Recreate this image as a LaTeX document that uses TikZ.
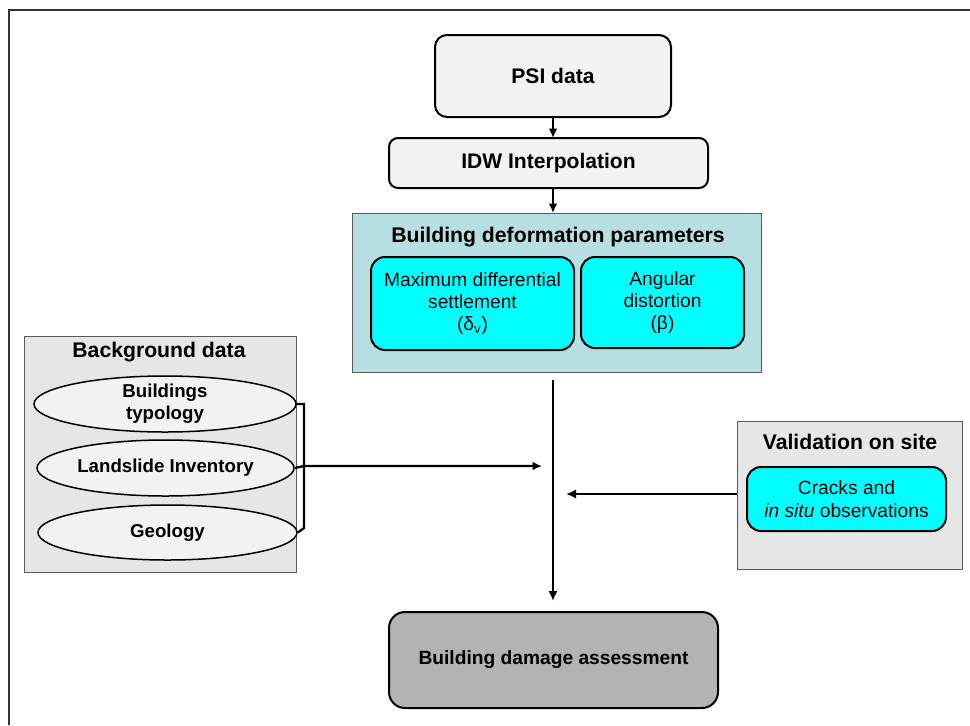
\documentclass[tikz,border=0pt]{standalone}
\usepackage{fontspec}
\setmainfont{Liberation Sans}
\usetikzlibrary{shapes.geometric,arrows.meta}
\newdimen\px
\px=0.75pt
\definecolor{boxgray}{HTML}{F2F2F2}
\definecolor{panelgray}{HTML}{E6E6E6}
\definecolor{paneledge}{HTML}{5A5A5A}
\definecolor{tealpanel}{HTML}{B7DEE0}
\definecolor{cyanbox}{HTML}{00FFFF}
\definecolor{darkgray}{HTML}{B3B3B3}
\tikzset{
  stepbox/.style={draw=black, line width=2\px, rounded corners=12\px, fill=boxgray,
    font=\bfseries\fontsize{15.8}{18}\selectfont, align=center, inner sep=0pt},
  panel/.style={draw=paneledge, line width=1\px, fill=panelgray, inner sep=0pt},
  paramcard/.style={draw=black, line width=2\px, rounded corners=14\px, fill=cyanbox,
    font=\fontsize{14.4}{16.8}\selectfont, align=center, inner sep=0pt},
  source/.style={ellipse, draw=black, line width=1.5\px, fill=boxgray, inner sep=0pt,
    font=\bfseries\fontsize{14}{16.5}\selectfont, align=center},
  heading/.style={font=\bfseries\fontsize{15.9}{18}\selectfont, inner sep=0pt},
  flow/.style={line width=1.9pt, -{Latex[length=7.5pt,width=7pt]}},
  thinflow/.style={line width=1.6pt, -{Latex[length=7pt,width=6.5pt]}},
}
\begin{document}
\begin{tikzpicture}[x=0.75pt,y=-0.75pt]
\useasboundingbox (0,0) rectangle (970,725);
% outer frame
\draw[line width=2\px, draw=black!80] (9,725) -- (9,10) -- (970,10);

% main chain
\node[stepbox, minimum width=236\px, minimum height=82\px] (psi) at (553,76) {PSI data};
\node[stepbox, minimum width=319\px, minimum height=50\px, rounded corners=9\px] (idw) at (548.5,163) {IDW Interpolation};

% deformation parameters panel
\node[draw=paneledge, line width=1\px, fill=tealpanel, minimum width=409\px, minimum height=159\px, inner sep=0pt] (bdp) at (556.5,292.5) {};
\node[heading] (bdptitle) at (558,237) {Building deformation parameters};
\node[paramcard, minimum width=203\px, minimum height=93\px] (maxdiff) at (472.5,303.5)
  {Maximum differential\\settlement\\(δ\textsubscript{v})};
\node[paramcard, minimum width=163\px, minimum height=91\px] (angular) at (662.5,302.5)
  {Angular\\distortion\\(β)};

% background data panel
\node[panel, minimum width=272\px, minimum height=236\px] (bg) at (160,454) {};
\node[heading] (bgtitle) at (159,352) {Background data};
\node[source, minimum width=262\px, minimum height=56\px] (typo) at (165,404) {Buildings\\typology};
\node[source, minimum width=257\px, minimum height=56\px] (inv) at (165.5,468) {Landslide Inventory};
\node[source, minimum width=259\px, minimum height=55\px] (geo) at (167.5,532.5) {Geology};

% validation panel
\node[panel, minimum width=225\px, minimum height=148\px] (val) at (849.5,495) {};
\node[heading] (valtitle) at (850,442) {Validation on site};
\node[paramcard, minimum width=199\px, minimum height=64\px] (cracks) at (846.5,499)
  {Cracks and\\\textit{in situ} observations};

% result
\node[stepbox, fill=darkgray, minimum width=329\px, minimum height=96\px, rounded corners=16\px,
  font=\bfseries\fontsize{14.4}{18}\selectfont] (damage) at (553.5,660) {Building damage assessment};

% points on the central line
\coordinate (psiout) at (553,117);
\coordinate (idwin) at (553,138);
\coordinate (idwout) at (553,188);
\coordinate (bdpin) at (553,213);
\coordinate (top) at (553,380);
\coordinate (bot) at (553,601);
\coordinate (bgin) at (542,466);
\coordinate (valin) at (566,494);
\coordinate (valout) at (737,494);
\coordinate (brk) at (304,466);
\coordinate (brktop) at (304,404);
\coordinate (brkbot) at (304,528);

% connectors
\draw[thinflow] (psiout) -- (idwin);
\draw[thinflow] (idwout) -- (bdpin);
\draw[flow] (top) -- (bot);
\draw[line width=1.7pt] (typo.east) -- (brktop) -- (brkbot) -- (geo.east);
\draw[thinflow, line width=1.8pt] (inv.east) -- (brk) -- (bgin);
\draw[flow] (valout) -- (valin);
\end{tikzpicture}
\end{document}
